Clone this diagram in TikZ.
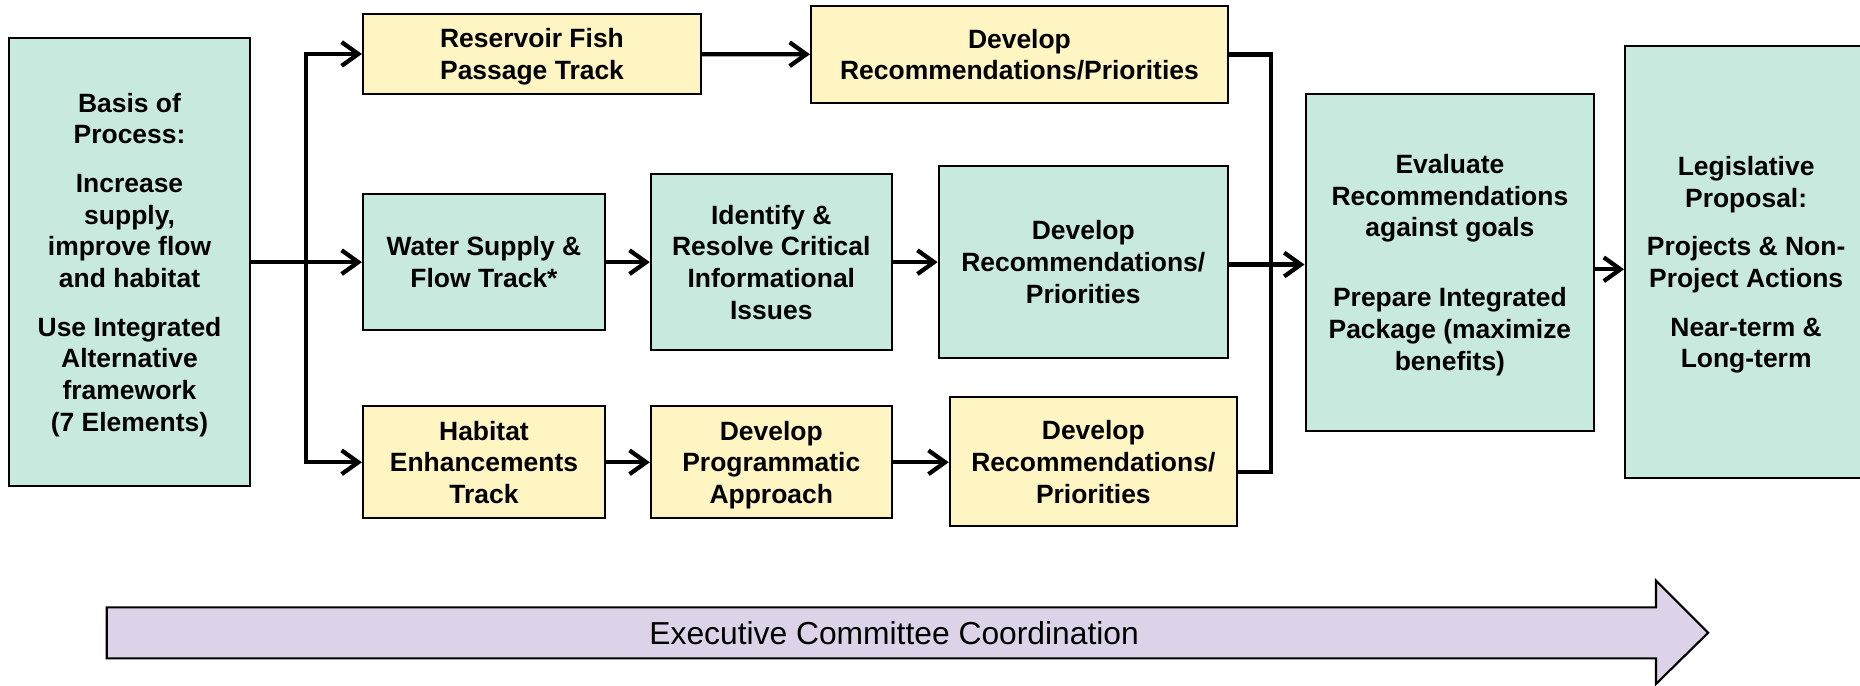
\documentclass[tikz,border=0pt]{standalone}
\usepackage{fontspec}
\setmainfont{Liberation Sans}
\usepackage{xcolor}
\usetikzlibrary{arrows.meta,positioning}
\definecolor{boxgreen}{RGB}{200, 233, 222}
\definecolor{boxyellow}{RGB}{255, 245, 194}
\definecolor{lilac}{RGB}{220, 211, 232}

\begin{document}
\begin{tikzpicture}[x=0.5pt, y=-0.5pt,
    box/.style={draw=black, line width=0.9pt, align=center, inner sep=0pt, text depth=0pt,
                font=\fontsize{11.15}{13.4}\selectfont\bfseries},
    greenbox/.style={box, fill=boxgreen},
    yellowbox/.style={box, fill=boxyellow},
    line/.style={draw=black, line width=1.8pt},
    conn/.style={line, -{Straight Barb[length=7pt, width=10pt]}}]
            \useasboundingbox (0,0) rectangle (1568,577.5);

            % Start
            \node[greenbox, minimum width=101.9pt, minimum height=189pt] (basis) at (109.2,221)
                {Basis of\\ Process:\\[7pt] Increase\\ supply,\\ improve flow\\ and habitat\\[7pt]
                 Use Integrated\\ Alternative\\ framework\\ (7 Elements)};

            % Top row
            \node[yellowbox, minimum width=142.5pt, minimum height=33.7pt] (res) at (448.5,45.5)
                {Reservoir Fish\\ Passage Track};
            \node[yellowbox, minimum width=175.7pt, minimum height=40.7pt] (devtop) at (859.4,45.9)
                {Develop\\ Recommendations/Priorities};

            % Middle row
            \node[greenbox, minimum width=102pt, minimum height=57.5pt] (water) at (408,221)
                {Water Supply \&\\ Flow Track*};
            \node[greenbox, minimum width=101.5pt, minimum height=74.4pt] (ident) at (650.2,221)
                {Identify \&\\ Resolve Critical\\ Informational\\ Issues};
            \node[greenbox, minimum width=121.8pt, minimum height=81pt] (devmid) at (913.2,221)
                {Develop\\ Recommendations/\\ Priorities};

            % Bottom row
            \node[yellowbox, minimum width=102pt, minimum height=47.3pt] (habitat) at (408,389.7)
                {Habitat\\ Enhancements\\ Track};
            \node[yellowbox, minimum width=101.5pt, minimum height=47.3pt] (prog) at (650.2,389.7)
                {Develop\\ Programmatic\\ Approach};
            \node[yellowbox, minimum width=121pt, minimum height=54.3pt] (devbot) at (921.7,389.2)
                {Develop\\ Recommendations/\\ Priorities};

            % Right side
            \node[greenbox, minimum width=121.7pt, minimum height=142pt] (eval) at (1222.3,221)
                {Evaluate\\ Recommendations\\ against goals\\[16pt] Prepare Integrated\\
                 Package (maximize\\ benefits)};
            \node[greenbox, minimum width=102pt, minimum height=182.3pt] (legis) at (1472,221)
                {Legislative\\ Proposal:\\[7pt] Projects \& Non-\\ Project Actions\\[7pt]
                 Near-term \&\\ Long-term};

            % Connectors
            \coordinate (split) at (257.7,221);
            \coordinate (merge) at (1071.3,221);
            \draw[line] (basis.east) -- (split);
            \draw[conn] (split) |- (res.west);
            \draw[conn] (split) -- (water.west);
            \draw[conn] (split) |- (habitat.west);
            \draw[conn] (res) -- (devtop);
            \draw[conn] (water) -- (ident);
            \draw[conn] (ident) -- (devmid);
            \draw[conn] (habitat) -- (prog);
            \draw[conn] (prog.east) -- (prog.east -| devbot.west);
            \draw[line] (devtop.east) -| (merge);
            \draw[line] ([yshift=-4.5pt]devbot.east) -| (merge);
            \draw[conn] ([yshift=-1pt]devmid.east) -- ([yshift=-1pt]eval.west);
            \draw[conn] ([yshift=-3pt]eval.east) -- ([yshift=-3pt]legis.west);

            % Coordination arrow
            \draw[fill=lilac, line width=0.9pt] (90,512) -- (1396,512) -- (1396,489.5) -- (1440,533.4)
                -- (1396,576.6) -- (1396,555) -- (90,555) -- cycle;
            \node[font=\fontsize{13.4}{16}\selectfont] (exec) at (753.8,534) {Executive Committee Coordination};
\end{tikzpicture}
\end{document}
